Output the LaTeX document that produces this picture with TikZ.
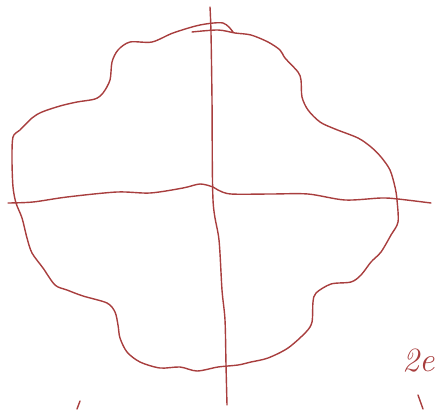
\documentclass[tikz,border=0pt]{standalone}
\begin{document}
\begin{tikzpicture}[x=1pt,y=-1pt,
  ink/.style={draw={rgb,255:red,168;green,62;blue,62},line width=1.4pt,line cap=round,line join=round},
  handtext/.style={text={rgb,255:red,168;green,62;blue,62},font=\itshape\fontsize{34}{34}\selectfont,inner sep=0pt,anchor=base west}]
\useasboundingbox (0,0) rectangle (436,410);
% closed four-lobed curve
\draw[ink] plot[smooth,tension=0.5] coordinates {
(192,32) (218,30) (235,33) (251,35) (268,42) (280,50) (285,58) (298,72) (301,80) (302,97)
(308,110) (320,122) (335,129) (358,138) (371,147) (381,157) (390,170) (395,187) (397,200)
(398,222) (391,235) (381,252) (371,262) (361,275) (351,282) (331,284) (316,293) (313,302)
(312,322) (306,332) (288,348) (268,358) (251,362) (238,365) (218,367) (197,371) (180,367)
(160,368) (140,362) (127,352) (120,338) (118,325) (115,312) (107,303) (83,296) (67,290)
(55,285) (43,268) (32,253) (27,238) (22,218) (16,203) (13,187) (12,160) (13,137) (20,130)
(32,118) (42,112) (60,106) (77,102) (95,99) (103,93) (110,80) (112,62) (118,50) (130,42)
(152,42) (173,33) (200,25) (223,23) (233,32)};
% horizontal axis
\draw[ink] plot[smooth,tension=0.5] coordinates {
(8,203) (33,202) (67,197) (117,192) (150,193) (183,188) (200,184) (213,187) (218,190)
(231,194) (271,194) (308,194) (345,200) (381,198) (398,199) (431,203)};
% vertical axis
\draw[ink] plot[smooth,tension=0.5] coordinates {
(210,7) (211,33) (212,100) (213,200) (219,240) (222,290) (225,320) (226,365) (227,405)};
% stray marks
\draw[ink] (80,401) -- (77,409);
\draw[ink] (418,395) -- (423,409);
\node[handtext] (label) at (402,371) {2e};
\end{tikzpicture}
\end{document}
